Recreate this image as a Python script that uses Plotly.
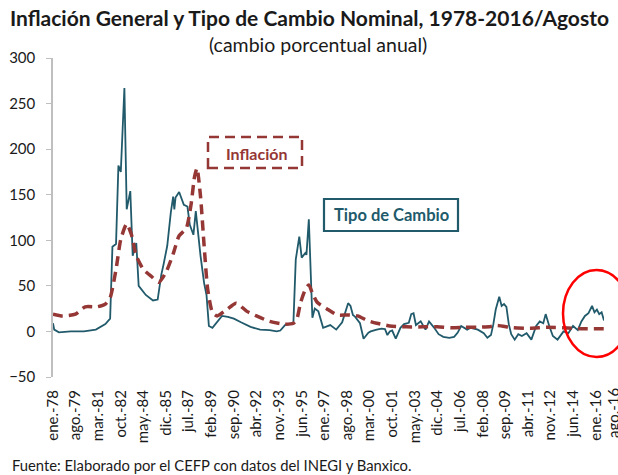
import plotly.graph_objects as go

# ---- data ----
tc_dates = ["1978-01","1978-02","1978-06","1979-04","1980-03","1981-01","1981-09","1982-01","1982-03","1982-06",
            "1982-08","1982-10","1983-01","1983-03","1983-06","1983-08","1983-11","1984-01","1984-07","1985-01",
            "1985-05","1985-08","1985-10","1986-01","1986-04","1986-06","1986-07","1986-08","1986-11","1987-03",
            "1987-06","1987-08","1987-11","1988-01","1988-05","1988-08","1988-10","1988-12","1989-03","1989-11",
            "1990-04","1990-09","1991-03","1991-11","1992-07","1993-03","1993-09","1993-12","1994-04","1994-11",
            "1995-01","1995-04","1995-06","1995-09","1995-10","1995-12","1996-02","1996-03","1996-05","1996-08",
            "1996-12","1997-06","1997-11","1998-04","1998-09","1998-11","1999-01","1999-03","1999-07","1999-10",
            "2000-02","2000-04","2000-09","2001-01","2001-04","2001-06","2001-08","2001-10","2002-01","2002-05",
            "2002-08","2002-12","2003-02","2003-04","2003-06","2003-10","2004-02","2004-05","2004-09","2005-01",
            "2005-05","2005-10","2006-02","2006-05","2006-08","2007-01","2007-04","2007-10","2008-03","2008-06",
            "2008-09","2008-11","2009-01","2009-04","2009-06","2009-08","2009-10","2009-12","2010-02","2010-05",
            "2010-08","2010-11","2011-03","2011-07","2011-11","2012-02","2012-05","2012-07","2012-10","2013-01",
            "2013-05","2013-10","2014-02","2014-06","2014-10","2015-01","2015-04","2015-07","2015-10","2015-12",
            "2016-02","2016-04","2016-06","2016-08"]
tc_values = [9, 2, -1, 0, 0, 2, 8, 14, 93, 96,
             182, 175, 267, 134, 154, 83, 97, 50, 40, 34,
             35, 62, 74, 94, 130, 148, 134, 147, 153, 139,
             137, 117, 106, 132, 83, 53, 40, 6, 4, 17,
             16, 14, 10, 5, 2, 1.5, 0, 1, 7, 9,
             79, 104, 81, 86, 84, 123, 48, 15, 25, 22,
             4, 7, 2, 10, 31, 28, 18, 16, 9, -8,
             -1.5, 0, 2, 3, 2.5, -4, 0, 1, -8, 4,
             8, 9.5, 19, 20, 7, 11, 2, 11, 4.5, -3,
             -6, -7, -6, -1.5, 6, 2, 4, 2, -2, -7,
             -4, 8, 24, 38, 28, 30, 27, 8, -3, -9,
             -3, -5, -2, -9, 6, 11, 9, 19, 6, -5,
             -9, 0, -2, 6, 1.5, 11, 17, 20, 28, 21,
             24, 19, 21, 12]

inf_dates = ["1978-01","1978-09","1979-08","1980-04","1981-02","1981-09","1982-01","1982-06","1982-10","1983-03",
             "1983-07","1983-11","1984-05","1984-12","1985-06","1985-12","1986-06","1986-11","1987-05","1987-09",
             "1987-12","1988-02","1988-05","1988-08","1988-11","1989-03","1989-07","1990-03","1990-11","1991-08",
             "1992-04","1993-03","1994-03","1994-11","1995-02","1995-05","1995-09","1995-12","1996-03","1996-07",
             "1997-03","1997-12","1998-09","1999-05","2000-01","2000-09","2001-08","2002-10","2003-12","2004-12",
             "2005-12","2006-11","2007-10","2008-09","2009-02","2010-04","2011-06","2012-08","2013-10","2014-12",
             "2016-02","2016-08"]
inf_values = [19, 17, 19, 27, 27, 30, 37, 68, 101, 118,
              106, 83, 68, 60, 54, 65, 85, 105, 113, 139,
              170, 179, 148, 94, 46, 21, 17, 24, 31, 22,
              17, 11, 8, 9, 14, 31, 46, 51, 42, 32,
              25, 18, 18, 17, 12, 9, 6, 5, 5, 5,
              4, 4.5, 4.5, 5.5, 6.5, 4, 3.5, 4.5, 4, 3,
              3, 3]

tick_dates = ["1978-01","1979-08","1981-03","1982-10","1984-05","1985-12","1987-07","1989-02","1990-09",
              "1992-04","1993-11","1995-06","1997-01","1998-08","2000-03","2001-10","2003-05","2004-12",
              "2006-07","2008-02","2009-09","2011-04","2012-11","2014-06","2016-01"]
tick_labels = ["ene.-78","ago.-79","mar.-81","oct.-82","may.-84","dic.-85","jul.-87","feb.-89","sep.-90",
               "abr.-92","nov.-93","jun.-95","ene.-97","ago.-98","mar.-00","oct.-01","may.-03","dic.-04",
               "jul.-06","feb.-08","sep.-09","abr.-11","nov.-12","jun.-14","ene.-16"]
last_label = "ago.-16"
y_ticks = [-50, 0, 50, 100, 150, 200, 250, 300]

TEAL = "#215A6B"
RED = "#953735"
AXIS = "#BFBFBF"
FONT = "Lato"
TXT = "#1a1a1a"

fig = go.Figure()
fig.add_trace(go.Scatter(x=tc_dates, y=tc_values, mode="lines", name="Tipo de Cambio",
                         line=dict(color=TEAL, width=1.8), showlegend=False))
fig.add_trace(go.Scatter(x=inf_dates, y=inf_values, mode="lines", name="Inflación",
                         line=dict(color=RED, width=3.5, dash="10px,6px", shape="spline", smoothing=0.6),
                         showlegend=False))

xr = ["1978-01-01", "2016-08-01"]
fig.update_layout(
    width=618, height=475, autosize=False,
    margin=dict(l=53, r=14, t=58, b=98),
    plot_bgcolor="white", paper_bgcolor="white",
    font=dict(family=FONT, color=TXT),
    xaxis=dict(type="date", range=xr, tickvals=tick_dates, ticktext=tick_labels, tickangle=-90,
               showline=False, ticks="", showgrid=False, zeroline=False, automargin=False,
               tickfont=dict(size=15, color=TXT, family=FONT), ticklabelstandoff=9),
    xaxis2=dict(type="date", range=xr, overlaying="x", anchor="free", position=50/350,
                tickvals=tick_dates, showticklabels=False, showline=True, linecolor=AXIS, linewidth=1.5,
                ticks="outside", ticklen=5, tickcolor=AXIS, tickwidth=1.2, showgrid=False, zeroline=False),
    yaxis=dict(range=[-50, 300], tickvals=y_ticks, showline=True, linecolor=AXIS, linewidth=1.5,
               ticks="outside", ticklen=5, tickcolor=AXIS, tickwidth=1.2, showgrid=False, zeroline=False,
               automargin=False, tickfont=dict(size=15, color=TXT, family=FONT), ticklabelstandoff=8),
)

anns = [
    dict(text="<b>Inflación General y Tipo de Cambio Nominal, 1978-2016/Agosto</b>", x=(309-53)/551,
         y=(377-17)/319, font=dict(size=21, color=TXT)),
    dict(text="(cambio porcentual anual)", x=(318-53)/551, y=(377-45)/319, font=dict(size=19.5, color=TXT)),
    dict(text="<b>Inflación</b>", x=(256-53)/551, y=(377-153)/319, font=dict(size=16, color=RED)),
    dict(text="<b>Tipo de Cambio</b>", x=(391-53)/551, y=(377-215)/319, font=dict(size=16.5, color=TEAL)),
    dict(text="Fuente: Elaborado por el CEFP con datos del INEGI y Banxico.", x=(10-53)/551, y=(377-465)/319,
         xanchor="left", font=dict(size=14.8, color=TXT)),
    dict(text=last_label, x=(613-53)/551, y=(377-386)/319, yanchor="top", textangle=-90,
         font=dict(size=15, color=TXT)),
]
for a in anns:
    a.setdefault("xanchor", "center")
    a.setdefault("yanchor", "middle")
    fig.add_annotation(xref="paper", yref="paper", showarrow=False, **a)

fig.add_shape(type="rect", xref="paper", yref="paper",
              x0=(208-53)/551, x1=(302-53)/551, y0=(377-168)/319, y1=(377-137)/319,
              line=dict(color=RED, width=2.5, dash="10px,6px"))
fig.add_shape(type="rect", xref="paper", yref="paper",
              x0=(324-53)/551, x1=(458-53)/551, y0=(377-231)/319, y1=(377-199)/319,
              line=dict(color=TEAL, width=2.2))
fig.add_shape(type="circle", xref="paper", yref="paper",
              x0=(563-53)/551, x1=(630-53)/551, y0=(377-357)/319, y1=(377-270)/319,
              line=dict(color="#FF0000", width=2.5))

fig.write_html("out.html", config={"displayModeBar": False},
               post_script="document.body.style.margin='0';document.body.style.overflow='hidden';")
